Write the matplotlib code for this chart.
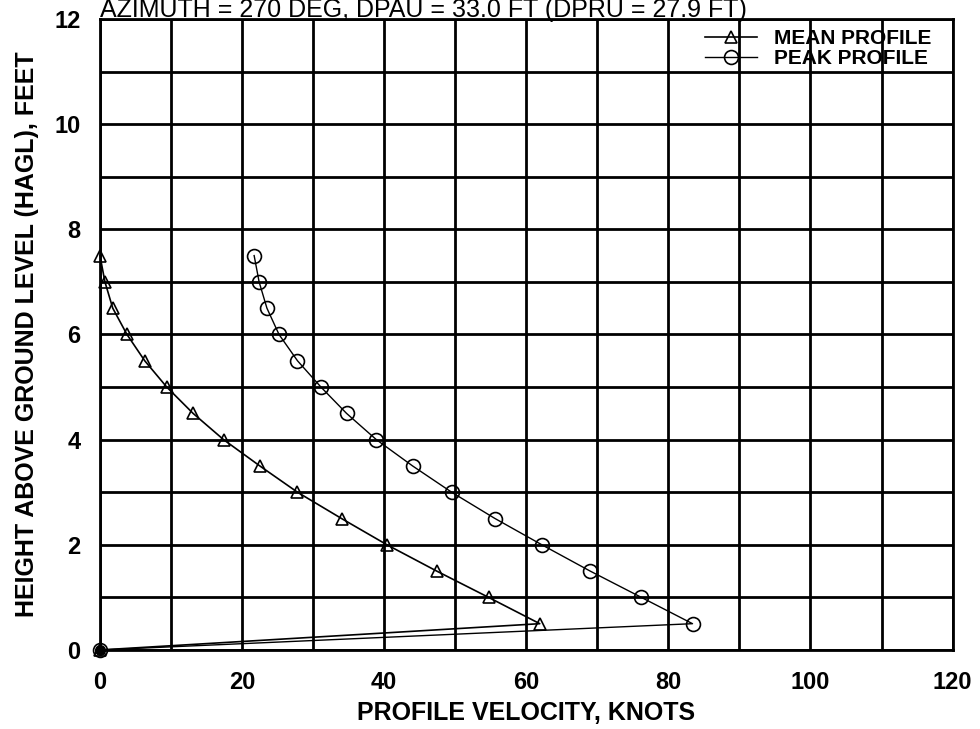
import matplotlib
matplotlib.use("Agg")
import matplotlib.pyplot as plt
from matplotlib.ticker import MultipleLocator

plt.rcParams['font.family'] = ['Liberation Sans', 'DejaVu Sans']

# altura sobre el terreno (ft) y velocidades de perfil (nudos)
alturas = [0.0, 0.5, 1.0, 1.5, 2.0, 2.5, 3.0, 3.5, 4.0, 4.5, 5.0, 5.5, 6.0, 6.5, 7.0, 7.5]
vel_media = [0.0, 61.9, 54.7, 47.4, 40.4, 34.0, 27.8, 22.5, 17.4, 13.1, 9.4, 6.3, 3.8, 1.8, 0.7, 0.0]
vel_pico = [0.0, 83.4, 76.2, 69.0, 62.2, 55.6, 49.5, 44.0, 38.9, 34.7, 31.1, 27.8, 25.2, 23.5, 22.4, 21.7]

TITULO = "AZIMUTH = 270 DEG, DPAU = 33.0 FT (DPRU = 27.9 FT)"

fig = plt.figure(figsize=(9.8, 7.29), dpi=100)
ax = fig.add_axes([0.102, 0.1084, 0.870, 0.8656])

ax.plot(vel_media, alturas, color='black', lw=1.2, marker='^', ms=8,
        mfc='none', mec='black', mew=1.2, label='MEAN PROFILE', zorder=4,
        clip_on=False)
ax.plot(vel_pico, alturas, color='black', lw=1.0, marker='o', ms=10,
        mfc='none', mec='black', mew=1.2, label='PEAK PROFILE', zorder=4,
        clip_on=False)
# punto de origen comun a los dos perfiles
ax.plot([vel_media[0]], [alturas[0]], 'o', color='black', ms=7, zorder=5, clip_on=False)

ax.set_xlim(0, 120)
ax.set_ylim(0, 12)
ax.xaxis.set_major_locator(MultipleLocator(20))
ax.xaxis.set_minor_locator(MultipleLocator(10))
ax.yaxis.set_major_locator(MultipleLocator(2))
ax.yaxis.set_minor_locator(MultipleLocator(1))
ax.grid(True, which='both', color='black', lw=2.0)
ax.set_axisbelow(True)
ax.tick_params(which='both', length=0)
ax.tick_params(axis='x', pad=15, labelsize=17)
ax.tick_params(axis='y', pad=14, labelsize=17)
for t in ax.get_xticklabels() + ax.get_yticklabels():
    t.set_fontweight('bold')
for s in ax.spines.values():
    s.set_linewidth(2.0)

ax.set_xlabel("PROFILE VELOCITY, KNOTS", fontsize=18, fontweight='bold', labelpad=5)
ax.set_ylabel("HEIGHT ABOVE GROUND LEVEL (HAGL), FEET", fontsize=18,
              fontweight='bold', labelpad=11)

fig.text(0.102, 1 - 17.5 / 729, TITULO, fontsize=18, ha='left', va='baseline')

leg = ax.legend(loc='upper right', frameon=False,
                prop={'weight': 'bold', 'size': 15}, handlelength=2.5,
                handletextpad=0.8, labelspacing=0.05, borderaxespad=0.1,
                bbox_to_anchor=(0.987, 1.0))
leg.set_zorder(5)

fig.savefig("out.png", dpi=100)
